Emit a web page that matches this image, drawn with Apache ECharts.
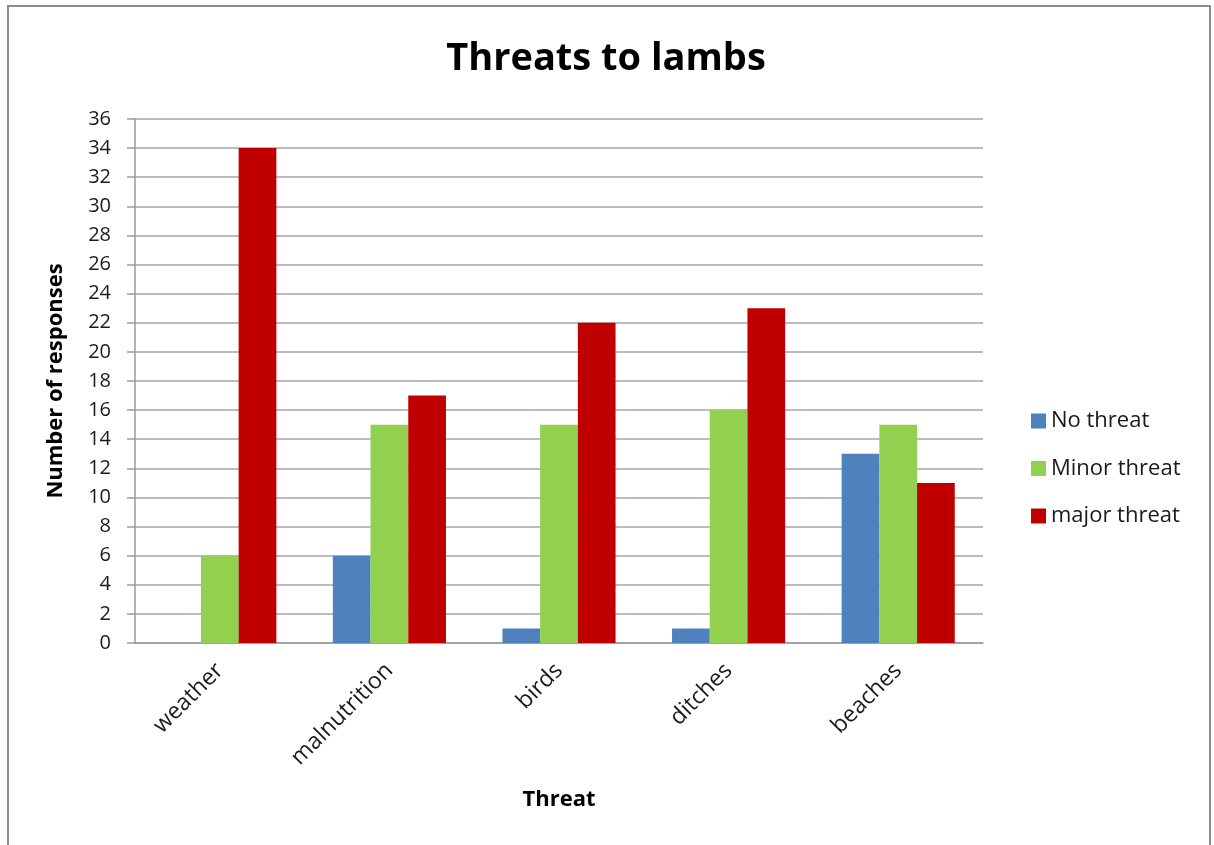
<!DOCTYPE html>
<html>
<head>
<meta charset="utf-8">
<script src="https://cdn.jsdelivr.net/npm/echarts@6/dist/echarts.min.js"></script>
<style>
  html, body { margin: 0; padding: 0; background: #ffffff; }
  #frame { position: absolute; left: 7px; top: 5px; width: 1204px; height: 850px;
           border: 2px solid #8c8c8c; box-sizing: border-box; }
  #chart { position: absolute; left: 0; top: 0; width: 1214px; height: 845px; }
</style>
</head>
<body>
<div id="frame"></div>
<div id="chart"></div>
<script>
// Survey responses per threat type
const categories = ['weather', 'malnutrition', 'birds', 'ditches', 'beaches'];
const noThreat = [0, 6, 1, 1, 13];
const minorThreat = [6, 15, 15, 16, 15];
const majorThreat = [34, 17, 22, 23, 11];
const seriesNames = ['No threat', 'Minor threat', 'major threat'];

const FONT = '"Open Sans", "Noto Sans", sans-serif';
const chart = echarts.init(document.getElementById('chart'), null, { renderer: 'canvas' });

chart.setOption({
  animation: false,
  backgroundColor: 'transparent',
  color: ['#4F81BD', '#92D050', '#C00000'],
  title: {
    text: 'Threats to lambs',
    left: 601, top: 35, textAlign: 'center',
    textStyle: { fontFamily: FONT, fontWeight: 'bold', fontSize: 38, color: '#000' }
  },
  legend: {
    orient: 'vertical',
    left: 1026, top: 405,
    itemWidth: 15, itemHeight: 15, itemGap: 25.5,
    icon: 'rect',
    textStyle: { fontFamily: FONT, fontSize: 22, color: '#1a1a1a', padding: [0, 0, 0, 0] },
    data: seriesNames
  },
  grid: { left: 135, right: 231, top: 119, bottom: 202, containLabel: false },
  xAxis: {
    type: 'category',
    data: categories,
    name: 'Threat',
    nameLocation: 'middle',
    nameGap: 146,
    nameTextStyle: { fontFamily: FONT, fontWeight: 'bold', fontSize: 22, color: '#000' },
    axisLine: { lineStyle: { color: '#9a9a9a', width: 1.5 } },
    axisTick: { show: false },
    axisLabel: { rotate: 45, fontFamily: FONT, fontSize: 23, color: '#1a1a1a', margin: 24, interval: 0 }
  },
  yAxis: {
    type: 'value',
    min: 0, max: 36, interval: 2,
    name: 'Number of responses',
    nameLocation: 'middle',
    nameGap: 68,
    nameTextStyle: { fontFamily: FONT, fontWeight: 'bold', fontSize: 22, color: '#000' },
    axisLine: { show: true, lineStyle: { color: '#9a9a9a', width: 1.5 } },
    axisTick: { show: true, inside: false, length: 8, lineStyle: { color: '#9a9a9a', width: 1.5 } },
    axisLabel: { fontFamily: FONT, fontSize: 20, color: '#1a1a1a', margin: 24 },
    splitLine: { lineStyle: { color: '#a6a6a6', width: 1.5 } }
  },
  series: [
    { name: seriesNames[0], type: 'bar', data: noThreat, barGap: '0%', barCategoryGap: '33.3%' },
    { name: seriesNames[1], type: 'bar', data: minorThreat, barGap: '0%', barCategoryGap: '33.3%' },
    { name: seriesNames[2], type: 'bar', data: majorThreat, barGap: '0%', barCategoryGap: '33.3%' }
  ]
});
</script>
</body>
</html>
